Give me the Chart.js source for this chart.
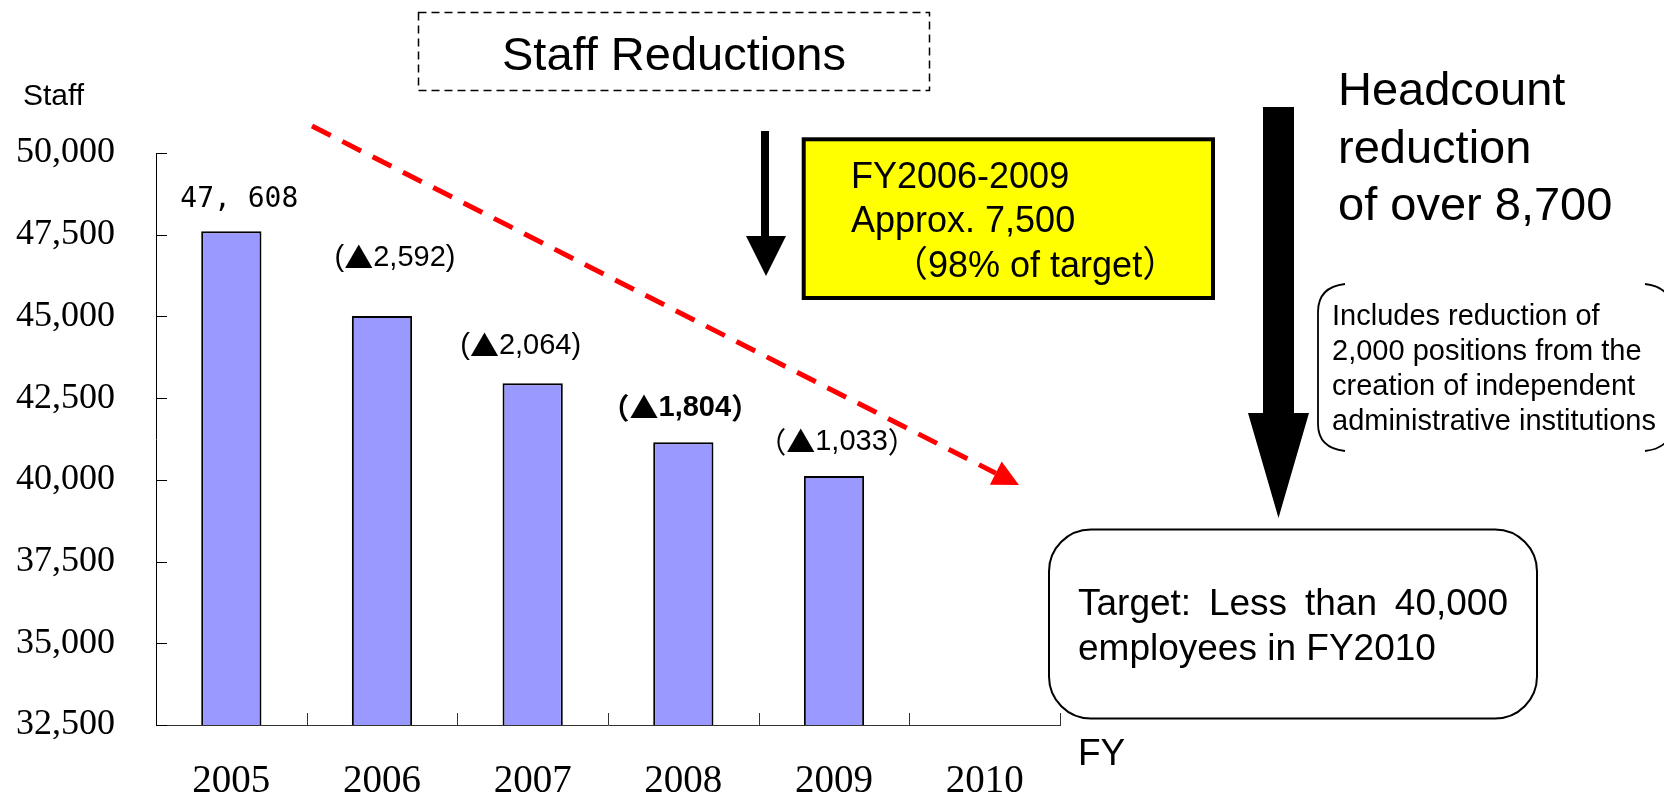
<!DOCTYPE html>
<html>
<head>
<meta charset="utf-8">
<script src="https://cdn.jsdelivr.net/npm/chart.js@4.4.0/dist/chart.umd.min.js"></script>
<style>
html,body{margin:0;padding:0;background:#fff;}
#wrap{position:relative;width:1664px;height:799px;overflow:hidden;background:#fff;}
#c{position:absolute;left:0;top:0;}
svg{position:absolute;left:0;top:0;}
.t{position:absolute;white-space:nowrap;font-family:"Liberation Sans",Arial,"Noto Sans CJK JP",sans-serif;color:#000;line-height:1;}
</style>
</head>
<body>
<div id="wrap">
<canvas id="c" width="1664" height="799" style="width:1664px;height:799px"></canvas>
<svg width="1664" height="799" viewBox="0 0 1664 799">
  <rect x="418.5" y="12.5" width="511" height="78" fill="none" stroke="#000" stroke-width="1.5" stroke-dasharray="8 5"/>
  <line x1="312" y1="126" x2="995.8" y2="473.2" stroke="#ff0000" stroke-width="5" stroke-dasharray="21 13"/>
  <polygon points="1019,485 989.9,484.8 1001.7,461.6" fill="#ff0000"/>
  <rect x="761" y="131" width="8" height="106" fill="#000"/>
  <polygon points="746,236 786,236 766,276" fill="#000"/>
  <rect x="803.7" y="139.3" width="409.3" height="158.7" fill="#ffff00" stroke="#000" stroke-width="4"/>
  <rect x="1263" y="107" width="31" height="307" fill="#000"/>
  <polygon points="1248,413 1309,413 1278.5,518" fill="#000"/>
  <path d="M1345,284 Q1318,287 1318,312 L1318,424 Q1318,448 1345,451" fill="none" stroke="#000" stroke-width="1.8"/>
  <path d="M1645,284 Q1672,287 1672,312 L1672,424 Q1672,448 1645,451" fill="none" stroke="#000" stroke-width="1.8"/>
  <rect x="1049" y="529.5" width="488" height="189" rx="42" ry="42" fill="#fff" stroke="#000" stroke-width="2"/>
</svg>

<div class="t" style="left:23px;top:80px;font-size:30px;">Staff</div>
<div class="t" style="left:418px;width:512px;text-align:center;top:30.2px;font-size:47px;">Staff Reductions</div>

<div class="t" style="left:851px;top:157.5px;font-size:36px;">FY2006-2009</div>
<div class="t" style="left:851px;top:201.5px;font-size:36px;">Approx. 7,500</div>
<div class="t" style="left:892px;top:246.5px;font-size:36px;">（98% of target）</div>

<div class="t" style="left:1338px;top:65.2px;font-size:47px;">Headcount</div>
<div class="t" style="left:1338px;top:123.2px;font-size:47px;">reduction</div>
<div class="t" style="left:1338px;top:180.2px;font-size:47px;">of over 8,700</div>

<div class="t" style="left:1332px;top:300.5px;font-size:29px;">Includes reduction of</div>
<div class="t" style="left:1332px;top:335.5px;font-size:29px;">2,000 positions from the</div>
<div class="t" style="left:1332px;top:370.5px;font-size:29px;">creation of independent</div>
<div class="t" style="left:1332px;top:405.5px;font-size:29px;">administrative institutions</div>

<div class="t" style="left:1078px;top:583.7px;font-size:37px;width:430px;display:flex;justify-content:space-between;"><span>Target:</span><span>Less</span><span>than</span><span>40,000</span></div>
<div class="t" style="left:1078px;top:628.7px;font-size:37px;">employees in FY2010</div>

<div class="t" style="left:1078px;top:733.7px;font-size:37px;">FY</div>
</div>

<script>
// ---- data ----
const categories = ['2005', '2006', '2007', '2008', '2009', '2010'];
const staff = [47608, 45016, 42952, 41148, 40115, null];
const yTickValues = [32500, 35000, 37500, 40000, 42500, 45000, 47500, 50000];

// ---- styling for bar labels (offsets from bar top-centre, in px) ----
const labelDx = [8, 13, -12, -3, 3];
const labelDy = [-31, -58, -37, -34, -34];
const fullWidthParens = [false, false, false, true, true];
const boldLabel = [false, false, false, true, false];

const fmt = v => v.toLocaleString('en-US');

const innerTicks = {
  id: 'innerTicks',
  afterDraw(chart) {
    const { ctx, chartArea: a, scales: { x, y } } = chart;
    ctx.save();
    ctx.strokeStyle = '#000';
    ctx.lineWidth = 1;
    y.ticks.forEach(t => {
      const py = Math.round(y.getPixelForValue(t.value)) + 0.5;
      ctx.beginPath(); ctx.moveTo(a.left, py); ctx.lineTo(a.left + 11, py); ctx.stroke();
    });
    ctx.strokeStyle = '#333';
    for (let i = 1; i <= categories.length; i++) {
      const px = Math.round(x.getPixelForValue(i - 0.5)) + 0.5;
      ctx.beginPath(); ctx.moveTo(px, a.bottom); ctx.lineTo(px, a.bottom - 12); ctx.stroke();
    }
    ctx.restore();
  }
};

function drawRuns(ctx, runs, cx, cy) {
  let total = 0;
  runs.forEach(r => { ctx.font = r.font; r.w = ctx.measureText(r.text).width; total += r.w; });
  let x = cx - total / 2;
  ctx.textAlign = 'left';
  runs.forEach(r => { ctx.font = r.font; ctx.fillText(r.text, x, cy); x += r.w; });
}

const barLabels = {
  id: 'barLabels',
  afterDatasetsDraw(chart) {
    const { ctx } = chart;
    const meta = chart.getDatasetMeta(0);
    ctx.save();
    ctx.fillStyle = '#000';
    ctx.textBaseline = 'middle';
    meta.data.forEach((bar, i) => {
      const v = staff[i];
      if (v == null) return;
      const cx = bar.x + labelDx[i], cy = bar.y + labelDy[i];
      if (i === 0) {
        ctx.font = '28px "DejaVu Sans Mono", monospace';
        ctx.textAlign = 'center';
        ctx.fillText(fmt(v).replace(',', ', '), cx, cy);
        return;
      }
      const w = boldLabel[i] ? '600 ' : '';
      const sans = w + '29px "Liberation Sans", sans-serif';
      const cjk = w + '29px "Noto Sans CJK JP", sans-serif';
      const diff = fmt(staff[i - 1] - v);
      const runs = fullWidthParens[i]
        ? [{ text: '（▲', font: cjk }, { text: diff, font: sans }, { text: '）', font: cjk }]
        : [{ text: '(', font: sans }, { text: '▲', font: cjk }, { text: diff + ')', font: sans }];
      drawRuns(ctx, runs, cx, cy);
    });
    ctx.restore();
  }
};

new Chart(document.getElementById('c'), {
  type: 'bar',
  data: {
    labels: categories,
    datasets: [{
      data: staff,
      backgroundColor: '#9999ff',
      borderColor: '#000',
      borderWidth: 2,
      barPercentage: 0.4,
      categoryPercentage: 1.0
    }]
  },
  options: {
    responsive: false,
    animation: false,
    layout: { padding: { top: 153, right: 604, bottom: 0, left: 0 } },
    plugins: { legend: { display: false }, tooltip: { enabled: false } },
    scales: {
      x: {
        offset: true,
        grid: { display: false, drawTicks: false },
        border: { display: true, color: '#333', width: 1 },
        ticks: {
          color: '#000',
          font: { family: '"Liberation Serif", serif', size: 39, lineHeight: 1 },
          padding: 37.5,
          maxRotation: 0,
          autoSkip: false
        },
        afterFit(s) { s.height = 74; }
      },
      y: {
        min: 32500,
        max: 50000,
        grid: { display: false, drawTicks: false },
        border: { display: true, color: '#000', width: 1 },
        ticks: {
          color: '#000',
          font: { family: '"Liberation Serif", serif', size: 36, lineHeight: 1 },
          padding: 41,
          callback: v => fmt(v)
        },
        afterBuildTicks(s) { s.ticks = yTickValues.map(v => ({ value: v })); },
        afterFit(s) { s.width = 156; }
      }
    }
  },
  plugins: [innerTicks, barLabels]
});
</script>
</body>
</html>
